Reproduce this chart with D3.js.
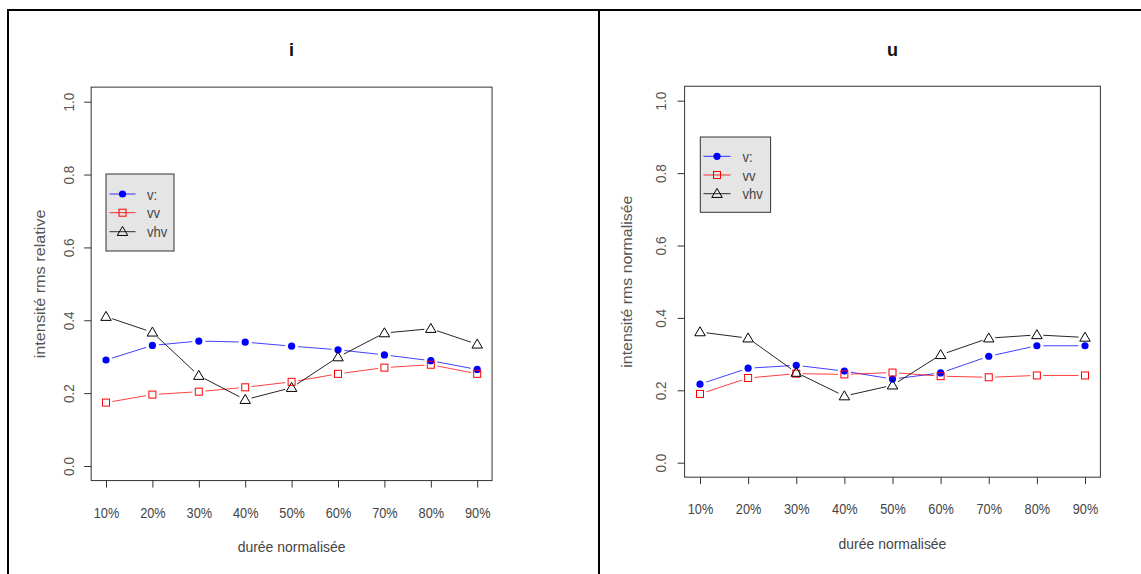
<!DOCTYPE html>
<html><head><meta charset="utf-8">
<script src="https://cdn.jsdelivr.net/npm/d3@7"></script>
<style>body{margin:0;background:#fff}svg{display:block;font-family:"Liberation Sans",Arial,sans-serif}</style>
</head><body>
<svg id="c" width="1141" height="574"></svg>
<script>
const categories = ["10%","20%","30%","40%","50%","60%","70%","80%","90%"];
const yTicks = [0.0,0.2,0.4,0.6,0.8,1.0];
const seriesNames = ["v:","vv","vhv"];
const i_v   = [0.291,0.331,0.343,0.340,0.329,0.319,0.305,0.289,0.265];
const i_vv  = [0.174,0.196,0.204,0.216,0.231,0.253,0.270,0.278,0.253];
const i_vhv = [0.410,0.367,0.248,0.182,0.215,0.299,0.365,0.377,0.334];
const u_v   = [0.217,0.261,0.269,0.253,0.231,0.248,0.294,0.323,0.323];
const u_vv  = [0.190,0.234,0.246,0.244,0.249,0.239,0.236,0.241,0.241];
const u_vhv = [0.361,0.344,0.249,0.184,0.214,0.298,0.344,0.353,0.346];

const colors = ["#0000ff","#ff0000","#000000"];
const shapes = ["circle","square","triangle"];
const svg = d3.select("#c");

function condense(sel, f){
  sel.each(function(){ const n=this.getComputedTextLength(); d3.select(this).attr("textLength",n*f).attr("lengthAdjust","spacingAndGlyphs"); });
}

// outer frames
svg.append("line").attr("x1",7).attr("x2",1141).attr("y1",10).attr("y2",10).attr("stroke","#000").attr("stroke-width",2);
svg.append("line").attr("x1",8).attr("x2",8).attr("y1",9).attr("y2",574).attr("stroke","#000").attr("stroke-width",2);
svg.append("line").attr("x1",599).attr("x2",599).attr("y1",9).attr("y2",574).attr("stroke","#000").attr("stroke-width",2);

function marker(g, shape, x, y, color){
  if(shape==="circle") g.append("circle").attr("cx",x).attr("cy",y).attr("r",3.6).attr("fill",color);
  else if(shape==="square") g.append("rect").attr("x",x-3.5).attr("y",y-3.5).attr("width",7).attr("height",7).attr("fill","none").attr("stroke",color).attr("stroke-width",1);
  else { const s=5; g.append("path").attr("d",`M${x},${y-s*1.05}L${x+s*1.05},${y+s*0.75}L${x-s*1.05},${y+s*0.75}Z`).attr("fill","none").attr("stroke",color).attr("stroke-width",1); }
}

function panel(o){
  const x = d3.scalePoint().domain(categories).range([o.x1, o.x9]);
  const y = d3.scaleLinear().domain([0,1]).range([o.y0, o.y1]);
  const step = (o.x9-o.x1)/8, uy=(o.y0-o.y1);
  const L=o.x1-0.32*step, R=o.x9+0.32*step, T=o.y1-0.04*uy, B=o.y0+0.04*uy;
  const g = svg.append("g");
  // title
  g.append("text").attr("x",(L+R)/2).attr("y",56).attr("text-anchor","middle").attr("font-weight","bold").attr("font-size",18).attr("fill","#111").text(o.title);
  // box
  g.append("rect").attr("x",L).attr("y",T).attr("width",R-L).attr("height",B-T).attr("fill","none").attr("stroke","#333").attr("stroke-width",1);
  // y axis
  const ya = g.append("g").attr("transform",`translate(${L},0)`).call(d3.axisLeft(y).tickValues(yTicks).tickFormat(d3.format(".1f")).tickSize(7).tickPadding(0));
  ya.select(".domain").remove();
  ya.selectAll("line").attr("stroke","#333");
  ya.selectAll("text").attr("font-size",15).attr("fill","#555").attr("font-family","Liberation Sans, Arial").attr("text-anchor","middle").attr("dy",null).attr("x",0).attr("y",0)
    .attr("transform",`translate(${-o.ytOff},0) rotate(-90)`);
  condense(ya.selectAll("text"),0.9);
  // x axis
  const xa = g.append("g").attr("transform",`translate(0,${B})`).call(d3.axisBottom(x).tickSize(7).tickPadding(0));
  xa.select(".domain").remove();
  xa.selectAll("line").attr("stroke","#333");
  xa.selectAll("text").attr("font-size",15).attr("fill","#444").attr("font-family","Liberation Sans, Arial").attr("y",o.xtBase-B).attr("dy",null);
  condense(xa.selectAll("text"),0.85);
  // axis labels
  g.append("text").attr("transform",`translate(${o.ylabX},${(T+B)/2}) rotate(-90)`).attr("text-anchor","middle").attr("font-size",15).attr("fill","#555").attr("textLength",o.ylabLen).attr("lengthAdjust","spacingAndGlyphs").text(o.ylab);
  const xt = g.append("text").attr("x",(L+R)/2).attr("y",o.xtitleBase).attr("text-anchor","middle").attr("font-size",15).attr("fill","#444").text("durée normalisée");
  condense(xt,0.93);
  // series
  o.series.forEach((vals,si)=>{
    const col=colors[si];
    const pts = vals.map((v,k)=>[x(categories[k]), y(v)]);
    for(let k=0;k<pts.length-1;k++){
      const [ax,ay]=pts[k],[bx,by]=pts[k+1];
      const dx=bx-ax, dy=by-ay, len=Math.hypot(dx,dy), gap=6.5;
      if(len>2*gap) g.append("line").attr("x1",ax+dx/len*gap).attr("y1",ay+dy/len*gap).attr("x2",bx-dx/len*gap).attr("y2",by-dy/len*gap).attr("stroke",col).attr("stroke-width",1).attr("opacity",si===2?0.85:0.75);
    }
    pts.forEach(p=>marker(g,shapes[si],p[0],p[1],col));
  });
  // legend
  const lg=o.leg;
  g.append("rect").attr("x",lg.x).attr("y",lg.y).attr("width",lg.w).attr("height",lg.h).attr("fill","#e5e5e5").attr("stroke","#333").attr("stroke-width",1);
  seriesNames.forEach((n,si)=>{
    const yy=lg.rows[si];
    g.append("line").attr("x1",lg.l1).attr("x2",lg.l2).attr("y1",yy).attr("y2",yy).attr("stroke",colors[si]).attr("stroke-width",1).attr("opacity",0.8);
    marker(g,shapes[si],(lg.l1+lg.l2)/2,yy,colors[si]);
    const t=g.append("text").attr("x",lg.tx).attr("y",yy).attr("dy","0.38em").attr("font-size",15).attr("fill","#444").text(n);
    condense(t,0.87);
  });
}

panel({title:"i", x1:106, x9:477.2, y0:466, y1:101.7, xtBase:518, xtitleBase:552, ylabX:45, ylabLen:149, ytOff:17, ylab:"intensité rms relative",
  series:[i_v,i_vv,i_vhv],
  leg:{x:106,y:174,w:68,h:77,rows:[194,212.7,231.7],l1:109.5,l2:135.5,tx:147}});
panel({title:"u", x1:700, x9:1085, y0:462.7, y1:100.7, xtBase:514, xtitleBase:549, ylabX:632, ylabLen:172, ytOff:19, ylab:"intensité rms normalisée",
  series:[u_v,u_vv,u_vhv],
  leg:{x:700.3,y:137,w:70.3,h:75.3,rows:[156.3,175,193.7],l1:703.5,l2:730.5,tx:742.5}});
</script>
</body></html>
